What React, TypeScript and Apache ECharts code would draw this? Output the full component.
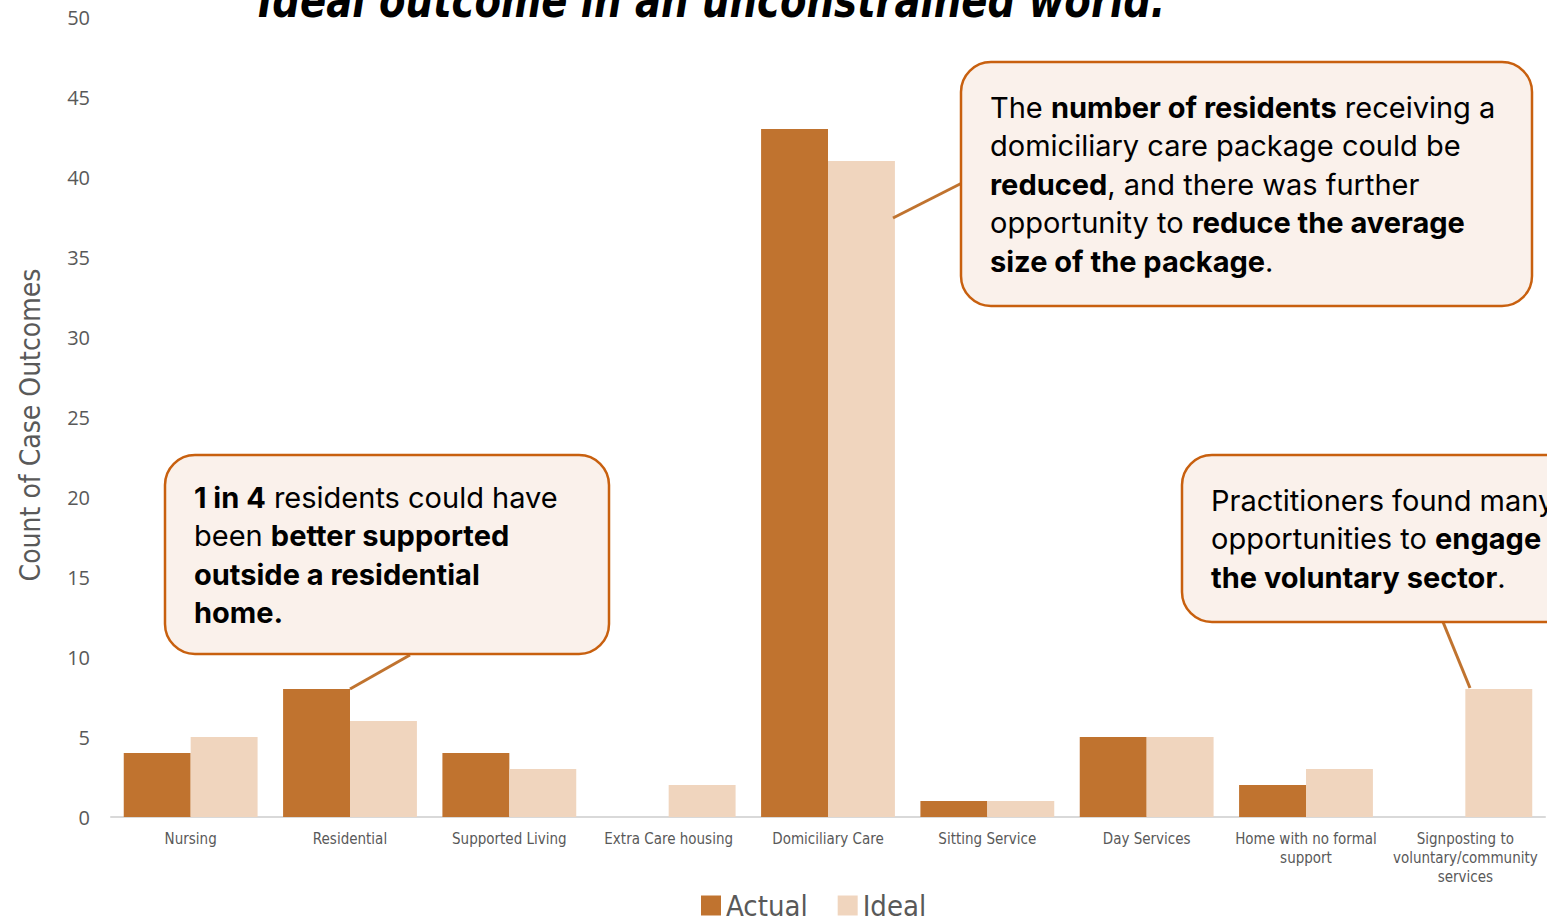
import React, { useEffect, useRef } from 'react';
import * as echarts from 'echarts';

const categories = [
  'Nursing',
  'Residential',
  'Supported Living',
  'Extra Care housing',
  'Domiciliary Care',
  'Sitting Service',
  'Day Services',
  'Home with no formal\nsupport',
  'Signposting to\nvoluntary/community\nservices',
];
const actualValues = [4, 8, 4, 0, 43, 1, 5, 2, 0];
const idealValues = [5, 6, 3, 2, 41, 1, 5, 3, 8];
const seriesNames = ['Actual', 'Ideal'];
const titleText = 'Ideal outcome in an unconstrained world:';
const yAxisName = 'Count of Case Outcomes';
const callout1 = '{b|1 in 4} residents could have\nbeen {b|better supported}\n{b|outside a residential}\n{b|home.}';
const callout2 =
  'The {b|number of residents} receiving a\ndomiciliary care package could be\n{b|reduced}, and there was further\nopportunity to {b|reduce the average}\n{b|size of the package}.';
const callout3 = 'Practitioners found many\nopportunities to {b|engage with}\n{b|the voluntary sector}.';

const NARROW = '"Liberation Sans Narrow", "DejaVu Sans Condensed", sans-serif';
const BODY = 'Inter, "Noto Sans", sans-serif';
const ACTUAL_COLOR = '#C0732F';
const IDEAL_COLOR = '#F0D5BE';
const BOX_FILL = '#FAF1EB';
const BOX_STROKE = '#C8600F';
const LEADER = '#C0732F';
const FS = 29;

function callout(x: number, y: number, w: number, h: number, text: string, firstCenter: number) {
  return {
    type: 'group',
    z: 10,
    children: [
      {
        type: 'rect',
        shape: { x, y, width: w, height: h, r: 30 },
        style: { fill: BOX_FILL, stroke: BOX_STROKE, lineWidth: 2.5 },
        z: 10,
      },
      {
        type: 'text',
        x: x + 29,
        y: firstCenter - 19.25,
        z: 11,
        style: {
          text,
          fontFamily: BODY,
          fontSize: FS,
          lineHeight: 38.5,
          fill: '#000',
          verticalAlign: 'top',
          rich: {
            b: { fontWeight: 'bold', fontFamily: BODY, fontSize: FS, lineHeight: 38.5, fill: '#000' },
          },
        },
      },
    ],
  };
}

function leader(x1: number, y1: number, x2: number, y2: number) {
  return {
    type: 'line',
    z: 9,
    shape: { x1, y1, x2, y2 },
    style: { stroke: LEADER, lineWidth: 3 },
  };
}

export default function App() {
  const ref = useRef<HTMLDivElement>(null);
  useEffect(() => {
    document.body.style.margin = '0';
    const chart = echarts.init(ref.current!, null, { renderer: 'svg' });
    chart.setOption({
      animation: false,
      backgroundColor: '#fff',
      grid: { left: 111, right: 2, top: 17, bottom: 102, outerBoundsMode: 'none' },
      legend: {
        data: seriesNames,
        left: 696,
        top: 886,
        icon: 'rect',
        itemWidth: 20,
        itemHeight: 20,
        itemGap: 30,
        textStyle: { fontSize: 29, color: '#595959', fontFamily: NARROW },
      },
      xAxis: {
        type: 'category',
        data: categories,
        axisLine: { lineStyle: { color: '#D9D9D9', width: 2 } },
        axisTick: { show: false },
        axisLabel: {
          interval: 0,
          fontSize: 15,
          lineHeight: 19,
          color: '#595959',
          fontFamily: NARROW,
          margin: 12,
        },
      },
      yAxis: {
        type: 'value',
        min: 0,
        max: 50,
        interval: 5,
        axisLine: { show: false },
        axisTick: { show: false },
        splitLine: { show: false },
        axisLabel: { fontSize: 20, color: '#595959', fontFamily: '"Open Sans", sans-serif', margin: 21 },
      },
      series: [
        {
          name: seriesNames[0],
          type: 'bar',
          data: actualValues,
          itemStyle: { color: ACTUAL_COLOR },
          barGap: '0%',
          barCategoryGap: '16%',
        },
        {
          name: seriesNames[1],
          type: 'bar',
          data: idealValues,
          itemStyle: { color: IDEAL_COLOR },
          barGap: '0%',
          barCategoryGap: '16%',
        },
      ],
      graphic: [
        {
          type: 'text',
          x: 258,
          y: 1,
          scaleX: 0.895,
          z: 20,
          style: {
            text: titleText,
            fontFamily: NARROW,
            fontSize: 48,
            fontWeight: 'bold',
            fontStyle: 'italic',
            fill: '#000',
            verticalAlign: 'middle',
          },
        },
        {
          type: 'text',
          x: 30,
          y: 425,
          rotation: Math.PI / 2,
          style: {
            text: yAxisName,
            fontFamily: NARROW,
            fontSize: 28,
            fill: '#595959',
            align: 'center',
            verticalAlign: 'middle',
          },
        },
        leader(350, 689, 410, 655),
        leader(893, 218, 962, 183),
        leader(1470, 688, 1443, 622),
        callout(165, 455, 444, 199, callout1, 497),
        callout(961, 62, 571, 244, callout2, 107),
        callout(1182, 455, 420, 167, callout3, 500),
      ],
    });
    return () => chart.dispose();
  }, []);
  return <div ref={ref} style={{ width: 1547, height: 919 }} />;
}
